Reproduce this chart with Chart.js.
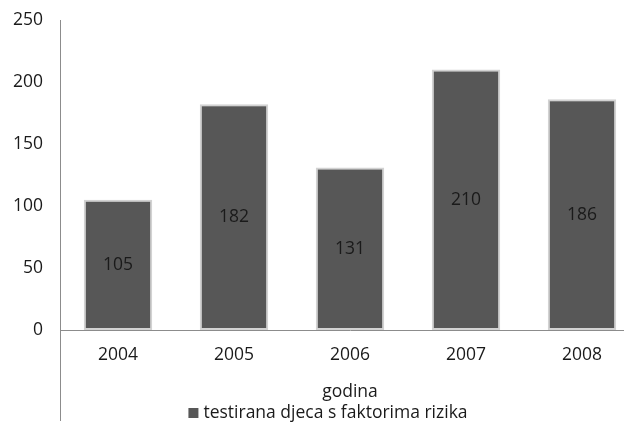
<!DOCTYPE html>
<html>
<head>
<meta charset="utf-8">
<script src="https://cdn.jsdelivr.net/npm/chart.js@4/dist/chart.umd.min.js"></script>
<style>
  html, body { margin: 0; padding: 0; background: #fff; overflow: hidden; }
  #wrap { width: 624px; height: 425px; overflow: hidden; }
  canvas { display: block; }
</style>
</head>
<body>
<div id="wrap"><canvas id="c" width="640" height="425"></canvas></div>
<script>
// Data
const years = ['2004', '2005', '2006', '2007', '2008'];
const tested = [105, 182, 131, 210, 186];
const seriesLabel = 'testirana djeca s faktorima rizika';
const axisTitle = 'godina';

const FONT = '"Open Sans", "Liberation Sans", sans-serif';
const FS = 17.5;
const TEXT = '#1a1a1a';
const AXIS = '#8c8c8c';
const BAR = '#575757';

// Vertical axis line running from the top of the plot down to the bottom of the canvas
const axisLine = {
  id: 'axisLine',
  afterDraw(chart) {
    const { ctx, chartArea } = chart;
    ctx.save();
    ctx.strokeStyle = AXIS;
    ctx.lineWidth = 1;
    ctx.beginPath();
    ctx.moveTo(chartArea.left + 0.5, chartArea.top);
    ctx.lineTo(chartArea.left + 0.5, 421);
    ctx.stroke();
    ctx.restore();
  }
};

// Value labels centred inside each bar
const barValues = {
  id: 'barValues',
  afterDatasetsDraw(chart) {
    const { ctx } = chart;
    const meta = chart.getDatasetMeta(0);
    ctx.save();
    ctx.font = FS + 'px ' + FONT;
    ctx.fillStyle = TEXT;
    ctx.textAlign = 'center';
    ctx.textBaseline = 'middle';
    meta.data.forEach((bar, i) => {
      const v = chart.data.datasets[0].data[i];
      ctx.fillText(String(v), bar.x, (bar.y + bar.base) / 2);
    });
    ctx.restore();
  }
};

// Legend entry below the axis title
const bottomLegend = {
  id: 'bottomLegend',
  afterDraw(chart) {
    const { ctx } = chart;
    const ds = chart.data.datasets[0];
    ctx.save();
    ctx.font = FS + 'px ' + FONT;
    const tw = ctx.measureText(ds.label).width;
    const box = 10, gap = 5;
    const total = box + gap + tw;
    const cx = 328, cy = 413;
    const x0 = cx - total / 2;
    ctx.fillStyle = BAR;
    ctx.fillRect(x0, cy - box / 2, box, box);
    ctx.fillStyle = TEXT;
    ctx.textAlign = 'left';
    ctx.textBaseline = 'middle';
    ctx.fillText(ds.label, x0 + box + gap, cy);
    ctx.restore();
  }
};

new Chart(document.getElementById('c'), {
  type: 'bar',
  data: {
    labels: years,
    datasets: [{
      label: seriesLabel,
      data: tested,
      backgroundColor: BAR,
      borderColor: '#d2d2d2',
      borderWidth: 2,
      borderSkipped: false,
      categoryPercentage: 1,
      barPercentage: 0.59
    }]
  },
  options: {
    responsive: false,
    animation: false,
    layout: { padding: { top: 20, bottom: 20, left: 0, right: 0 } },
    plugins: {
      legend: { display: false },
      tooltip: { enabled: false }
    },
    scales: {
      x: {
        grid: { display: false, drawTicks: false },
        border: { display: true, color: AXIS, width: 1 },
        ticks: { font: { family: FONT, size: FS }, color: TEXT, padding: 15 },
        title: {
          display: true,
          text: axisTitle,
          font: { family: FONT, size: FS },
          color: TEXT,
          padding: { top: 0, bottom: 2 }
        },
        afterFit(scale) { scale.height = 75; scale.paddingLeft = 0; scale.paddingRight = 0; }
      },
      y: {
        min: 0,
        max: 250,
        grid: { display: false, drawTicks: false },
        border: { display: false },
        ticks: { stepSize: 50, font: { family: FONT, size: FS }, color: TEXT, padding: 17 },
        afterFit(scale) { scale.width = 60; scale.paddingTop = 0; scale.paddingBottom = 0; }
      }
    }
  },
  plugins: [axisLine, barValues, bottomLegend]
});
</script>
</body>
</html>
